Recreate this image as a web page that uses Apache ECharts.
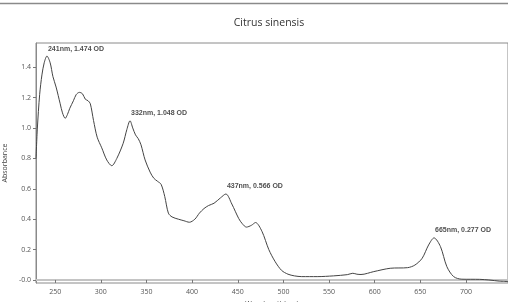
<!DOCTYPE html>
<html>
<head>
<meta charset="utf-8">
<script src="https://cdn.jsdelivr.net/npm/echarts@6/dist/echarts.min.js"></script>
<style>
  html, body { margin: 0; padding: 0; background: #fff; }
  #chart { width: 508px; height: 302px; }
</style>
</head>
<body>
<div id="chart"></div>
<script>
// spectrum
var wavelengths = [229, 230.5, 233, 235.5, 238, 241, 244.5, 247.5, 251, 255.5, 258, 261, 263.5, 266, 270, 273, 276.5, 280, 283, 286, 288.5, 292, 296, 301, 306.5, 312, 317.5, 324.5, 328.5, 332, 335, 338, 341, 344, 348.5, 354, 358, 362, 366, 370, 374, 378, 385, 391, 397, 403, 408, 413, 418, 424, 431, 437, 443.5, 451, 455, 459.5, 465, 469.5, 476.5, 484, 491, 498, 505, 512, 520, 537, 555, 570, 576, 580.5, 585, 599, 617, 636, 644, 652, 659, 665, 672, 679, 686.5, 695.5, 715, 725, 737, 746];
var absorbance = [0.80, 1.00, 1.22, 1.35, 1.43, 1.474, 1.43, 1.34, 1.27, 1.16, 1.10, 1.064, 1.09, 1.13, 1.18, 1.22, 1.235, 1.225, 1.19, 1.18, 1.16, 1.05, 0.94, 0.87, 0.79, 0.752, 0.80, 0.90, 0.99, 1.048, 1.00, 0.955, 0.93, 0.89, 0.79, 0.71, 0.67, 0.65, 0.63, 0.55, 0.44, 0.415, 0.40, 0.39, 0.38, 0.40, 0.44, 0.47, 0.49, 0.505, 0.54, 0.566, 0.50, 0.405, 0.37, 0.348, 0.36, 0.378, 0.32, 0.20, 0.12, 0.063, 0.038, 0.027, 0.022, 0.022, 0.027, 0.035, 0.044, 0.038, 0.036, 0.055, 0.077, 0.081, 0.098, 0.143, 0.23, 0.277, 0.22, 0.088, 0.022, 0.005, 0.004, 0.000, -0.008, -0.01];

var peakNm = [241, 332, 437, 665];
var peakOD = [1.474, 1.048, 0.566, 0.277];

var xTicks = [250, 300, 350, 400, 450, 500, 550, 600, 650, 700];
var yTicks = [0, 0.2, 0.4, 0.6, 0.8, 1.0, 1.2, 1.4];

var lineData = wavelengths.map(function (w, i) { return [w, absorbance[i]]; });
var peakData = peakNm.map(function (w, i) { return [w, peakOD[i]]; });

var myChart = echarts.init(document.getElementById("chart"));
var font = "'Open Sans', 'Noto Sans', sans-serif";
var narrow = "'Liberation Sans Narrow', 'Liberation Sans', sans-serif";

myChart.setOption({
  animation: false,
  title: {
    text: "Citrus sinensis",
    left: 264,
    textAlign: "center",
    top: 13,
    textStyle: { fontFamily: font, fontSize: 10.5, fontWeight: "normal", color: "#333" }
  },
  graphic: [
    {
      type: "line",
      shape: { x1: 0, y1: 3.5, x2: 508, y2: 3.5 },
      style: { stroke: "#8a8a8a", lineWidth: 1.5 }
    }
  ],
  grid: {
    left: 36,
    top: 43,
    right: 0,
    bottom: 19,
    outerBoundsMode: "none",
    show: true,
    borderColor: "#8a8a8a",
    borderWidth: 1
  },
  xAxis: {
    type: "value",
    min: 229,
    max: 746,
    name: "Wavelength(nm)",
    nameLocation: "middle",
    nameGap: 17,
    nameTextStyle: { fontFamily: font, fontSize: 7, color: "#444" },
    axisLine: { show: true, lineStyle: { color: "#c4c4c4", width: 2 } },
    axisTick: { show: true, customValues: xTicks, length: 3, lineStyle: { color: "#777" } },
    axisLabel: { customValues: xTicks, fontFamily: font, fontSize: 7, color: "#555", margin: 5 },
    splitLine: { show: false }
  },
  yAxis: {
    type: "value",
    min: -0.02,
    max: 1.56,
    name: "Absorbance",
    nameLocation: "middle",
    nameGap: 24,
    nameTextStyle: { fontFamily: font, fontSize: 7, color: "#444" },
    axisLine: { show: true, lineStyle: { color: "#8a8a8a" } },
    axisTick: { show: true, customValues: yTicks, length: 3, lineStyle: { color: "#777" } },
    axisLabel: {
      customValues: yTicks,
      fontFamily: font,
      fontSize: 7,
      color: "#555",
      margin: 5,
      formatter: function (v) { return v === 0 ? "-0.0" : v.toFixed(1); }
    },
    splitLine: { show: false }
  },
  series: [
    {
      type: "line",
      data: lineData,
      smooth: 0.3,
      symbol: "none",
      lineStyle: { color: "#444", width: 1 }
    },
    {
      type: "scatter",
      data: peakData,
      symbolSize: 0,
      label: {
        show: true,
        position: "top",
        align: "left",
        distance: 4,
        offset: [1, 0],
        fontFamily: narrow,
        fontSize: 7,
        fontWeight: "bold",
        color: "#222",
        formatter: function (p) { return p.value[0] + "nm, " + p.value[1].toFixed(3) + " OD"; }
      }
    }
  ]
});
</script>
</body>
</html>
